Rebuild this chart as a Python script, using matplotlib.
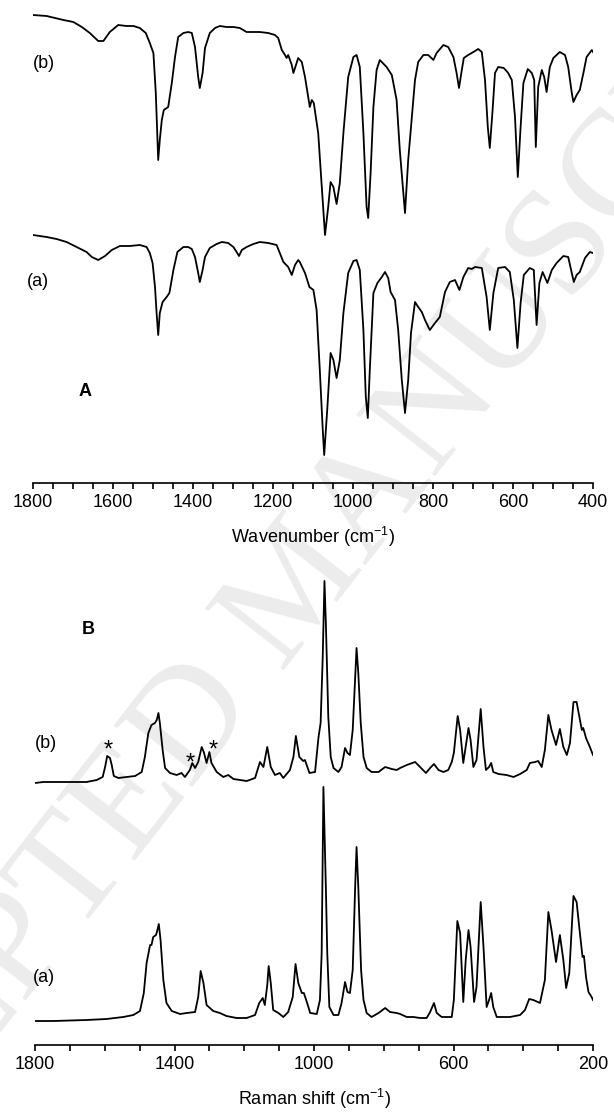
import matplotlib
matplotlib.use("Agg")
import matplotlib.pyplot as plt
from matplotlib.ticker import MultipleLocator

plt.rcParams['font.family'] = ['Liberation Sans', 'DejaVu Sans']
plt.rcParams['mathtext.fontset'] = 'custom'
plt.rcParams['mathtext.rm'] = 'Liberation Sans'
plt.rcParams['mathtext.it'] = 'Liberation Sans:italic'
plt.rcParams['mathtext.bf'] = 'Liberation Sans:bold'

# ---- IR spectra (A), transmittance in arbitrary units (offset) ----
ir_b_wn = [1800, 1766, 1724, 1699, 1678, 1658, 1637, 1624, 1608, 1587, 1566, 1549, 1533, 1518,
           1508, 1499, 1493, 1487, 1483, 1478, 1473, 1462, 1453, 1445, 1437, 1424, 1412, 1403,
           1395, 1387, 1383, 1376, 1370, 1358, 1345, 1333, 1316, 1299, 1283, 1266, 1249, 1233,
           1212, 1195, 1187, 1178, 1170, 1166, 1162, 1153, 1149, 1137, 1128, 1120, 1108, 1103,
           1098, 1087, 1078, 1070, 1062, 1056, 1049, 1041, 1033, 1024, 1012, 999, 991, 983,
           974, 966, 962, 956, 949, 941, 933, 916, 903, 891, 883, 870, 862, 853, 845, 837,
           824, 812, 799, 791, 774, 762, 749, 741, 735, 728, 723, 712, 699, 687, 678, 670,
           663, 658, 651, 645, 637, 623, 612, 603, 595, 588, 581, 574, 563, 553, 547, 543,
           537, 528, 522, 516, 508, 499, 483, 470, 462, 453, 449, 441, 433, 424, 416, 403, 400]
ir_b_val = [468, 467, 463, 461, 456, 450, 442, 442, 451, 458, 457, 457, 455, 450,
            440, 430, 390, 323, 343, 363, 373, 376, 400, 426, 446, 450, 451, 450,
            436, 406, 395, 410, 435, 450, 455, 457, 456, 456, 455, 451, 451, 451,
            450, 448, 445, 433, 428, 425, 428, 418, 410, 425, 421, 406, 376, 383,
            380, 350, 296, 248, 276, 301, 296, 279, 300, 350, 406, 426, 428, 416,
            350, 276, 265, 310, 376, 413, 423, 416, 408, 383, 333, 270, 323, 366, 403, 421,
            428, 428, 423, 430, 438, 436, 426, 410, 395, 413, 425, 428, 431, 434, 431, 403,
            356, 335, 373, 410, 416, 415, 410, 403, 366, 306, 356, 400, 414, 410, 403, 336,
            396, 413, 406, 391, 416, 425, 431, 428, 416, 390, 381, 388, 393, 410, 426, 433, 431]

ir_a_wn = [1800, 1766, 1741, 1716, 1691, 1666, 1653, 1637, 1620, 1603, 1583, 1558, 1533, 1516,
           1508, 1501, 1495, 1491, 1487, 1483, 1476, 1466, 1459, 1449, 1439, 1424, 1412, 1403,
           1395, 1387, 1383, 1376, 1370, 1358, 1341, 1328, 1312, 1299, 1291, 1285, 1278, 1266,
           1249, 1233, 1212, 1191, 1183, 1174, 1162, 1153, 1145, 1137, 1133, 1120, 1109, 1099,
           1091, 1083, 1076, 1072, 1064, 1056, 1049, 1041, 1033, 1024, 1012, 999, 991, 983,
           974, 968, 963, 958, 949, 939, 928, 920, 912, 906, 895, 887, 878, 870, 862, 855,
           845, 837, 828, 820, 808, 795, 783, 770, 758, 745, 734, 724, 712, 703, 695, 678,
           666, 658, 649, 637, 620, 608, 598, 589, 581, 573, 558, 548, 541, 534, 526, 514,
           503, 491, 474, 462, 453, 448, 441, 433, 420, 408, 400]
ir_a_val = [248, 246, 244, 241, 236, 231, 226, 223, 227, 233, 237, 237, 238, 236,
            230, 220, 196, 170, 148, 170, 181, 186, 190, 213, 231, 236, 236, 234,
            226, 210, 201, 213, 226, 235, 239, 241, 240, 236, 231, 227, 233, 236,
            239, 241, 240, 238, 230, 221, 216, 208, 218, 223, 221, 210, 196, 193,
            173, 113, 56, 28, 76, 130, 123, 105, 123, 170, 210, 222, 223, 213,
            153, 86, 65, 113, 190, 200, 206, 211, 205, 191, 183, 153, 103, 70, 103, 150,
            181, 176, 171, 163, 153, 160, 166, 191, 201, 203, 193, 206, 215, 214, 216, 215,
            186, 153, 190, 215, 216, 211, 183, 135, 180, 208, 215, 213, 158, 200, 211, 200,
            213, 220, 227, 226, 210, 201, 208, 211, 225, 231, 230]

# ---- Raman spectra (B), intensity in arbitrary units (offset) ----
ra_b_wn = [1800, 1776, 1747, 1719, 1690, 1652, 1623, 1606, 1599, 1593, 1585, 1580, 1574, 1561,
           1537, 1513, 1494, 1485, 1475, 1466, 1456, 1451, 1446, 1442, 1434, 1427, 1413, 1394,
           1380, 1370, 1356, 1349, 1341, 1332, 1322, 1316, 1308, 1300, 1294, 1279, 1260, 1246,
           1231, 1193, 1169, 1155, 1145, 1134, 1124, 1112, 1098, 1088, 1069, 1059, 1052, 1042,
           1031, 1026, 1013, 997, 987, 981, 975, 970, 966, 959, 952, 944, 930, 921, 911, 904,
           897, 889, 882, 878, 873, 866, 858, 849, 835, 815, 796, 777, 763, 753, 734, 710,
           696, 679, 667, 656, 643, 629, 615, 605, 599, 588, 581, 572, 565, 557, 551, 543,
           534, 522, 514, 507, 498, 492, 486, 471, 448, 428, 409, 390, 381, 366, 357, 347,
           338, 328, 319, 306, 295, 285, 275, 266, 256, 247, 239, 232, 228, 220, 209, 200]
ra_b_val = [262, 263, 263, 263, 263, 263, 265, 268, 278, 289, 287, 280, 269, 267,
            268, 269, 273, 288, 312, 320, 322, 325, 332, 322, 295, 277, 272, 270,
            272, 268, 275, 282, 277, 283, 298, 293, 282, 293, 282, 273, 268, 270,
            266, 264, 267, 283, 278, 298, 278, 270, 272, 267, 275, 288, 309, 288,
            284, 285, 272, 273, 308, 322, 388, 464, 422, 328, 288, 277, 273, 278, 297, 292,
            290, 315, 368, 397, 372, 322, 288, 277, 273, 273, 278, 276, 275, 277, 280, 283,
            278, 272, 277, 281, 275, 273, 275, 283, 292, 329, 315, 282, 298, 317, 305, 278,
            285, 336, 298, 275, 278, 282, 273, 271, 270, 268, 271, 275, 282, 283, 284, 278,
            295, 330, 315, 300, 316, 298, 290, 302, 343, 343, 328, 315, 317, 307, 298, 290]

ra_a_wn = [1800, 1747, 1652, 1595, 1547, 1518, 1499, 1488, 1480, 1470, 1466, 1461, 1453, 1449,
           1445, 1440, 1432, 1423, 1408, 1384, 1365, 1341, 1332, 1325, 1317, 1308, 1289, 1270,
           1251, 1222, 1193, 1169, 1157, 1147, 1141, 1134, 1130, 1124, 1117, 1102, 1088, 1074,
           1061, 1053, 1045, 1035, 1029, 1016, 1011, 992, 983, 978, 973, 966, 962, 956, 944,
           930, 921, 911, 904, 897, 889, 882, 878, 873, 865, 858, 849, 835, 815, 796, 782,
           763, 753, 734, 715, 696, 677, 667, 656, 648, 634, 605, 599, 589, 581, 572, 565,
           557, 551, 541, 534, 522, 514, 505, 498, 492, 486, 476, 438, 409, 395, 383, 371,
           352, 338, 328, 319, 306, 295, 285, 277, 268, 256, 247, 237, 230, 226, 220, 213,
           204, 200]
ra_a_val = [24, 24, 25, 26, 28, 30, 34, 52, 82, 100, 100, 108, 110, 115,
            121, 105, 65, 42, 34, 31, 32, 33, 48, 74, 62, 40, 34, 32,
            29, 27, 27, 30, 42, 47, 40, 60, 79, 62, 35, 32, 28, 33,
            48, 81, 62, 52, 52, 38, 32, 31, 45, 92, 258, 158, 92, 38, 30,
            30, 42, 63, 53, 52, 75, 158, 198, 158, 75, 45, 32, 28, 32, 37, 33,
            32, 31, 28, 28, 27, 27, 33, 42, 32, 28, 28, 45, 124, 112, 43, 85,
            115, 98, 43, 58, 143, 98, 38, 45, 52, 38, 28, 28, 30, 35, 46, 45,
            42, 65, 133, 115, 83, 110, 85, 57, 72, 149, 143, 110, 88, 89, 68, 53,
            48, 45]

ir_ticks = [1800, 1600, 1400, 1200, 1000, 800, 600, 400]
raman_ticks = [1800, 1400, 1000, 600, 200]

fig = plt.figure(figsize=(6.14, 11.12), dpi=100)

# faint diagonal watermark behind everything
fig.text(0.49, 0.47, "ACCEPTED MANUSCRIPT", family='Liberation Serif', fontsize=110,
         color='#ececec', rotation=52, ha='center', va='center', rotation_mode='anchor',
         zorder=-5)

ax1 = fig.add_axes([33 / 614, 1 - 483 / 1112, 560 / 614, 483 / 1112])
ax2 = fig.add_axes([35 / 614, 67 / 1112, 558 / 614, 475 / 1112])
for ax in (ax1, ax2):
    ax.patch.set_visible(False)
    for s in ('left', 'right', 'top'):
        ax.spines[s].set_visible(False)
    ax.spines['bottom'].set_linewidth(1.2)
    ax.set_yticks([])
    ax.tick_params(axis='x', which='both', direction='out', length=4, width=1.2,
                   labelsize=13, pad=4)

ax1.plot(ir_b_wn, ir_b_val, color='black', lw=1.3)
ax1.plot(ir_a_wn, ir_a_val, color='black', lw=1.3)
ax1.set_xlim(1800, 400)
ax1.set_ylim(0, 483)
ax1.set_xticks(ir_ticks)
ax1.xaxis.set_minor_locator(MultipleLocator(50))
ax1.set_xlabel("Wavenumber (cm$^{-1}$)", fontsize=13, labelpad=10)
ax1.text(1800, 420, "(b)", fontsize=13, ha='left', va='center')
ax1.text(1815, 201, "(a)", fontsize=13, ha='left', va='center')
ax1.text(1670, 92, "A", fontsize=13, fontweight='bold', ha='center', va='center')

ax2.plot(ra_b_wn, ra_b_val, color='black', lw=1.3)
ax2.plot(ra_a_wn, ra_a_val, color='black', lw=1.3)
ax2.set_xlim(1800, 200)
ax2.set_ylim(0, 475)
ax2.set_xticks(raman_ticks)
ax2.xaxis.set_minor_locator(MultipleLocator(100))
ax2.set_xlabel("Raman shift (cm$^{-1}$)", fontsize=13, labelpad=10)
ax2.text(1800, 301, "(b)", fontsize=13, ha='left', va='center')
ax2.text(1805, 67, "(a)", fontsize=13, ha='left', va='center')
ax2.text(1648, 416, "B", fontsize=13, fontweight='bold', ha='center', va='center')
for wn, val in [(1591, 294), (1356, 281), (1290, 294)]:
    ax2.text(wn, val, "*", fontsize=17, ha='center', va='center')

fig.savefig("out.png", dpi=100)
